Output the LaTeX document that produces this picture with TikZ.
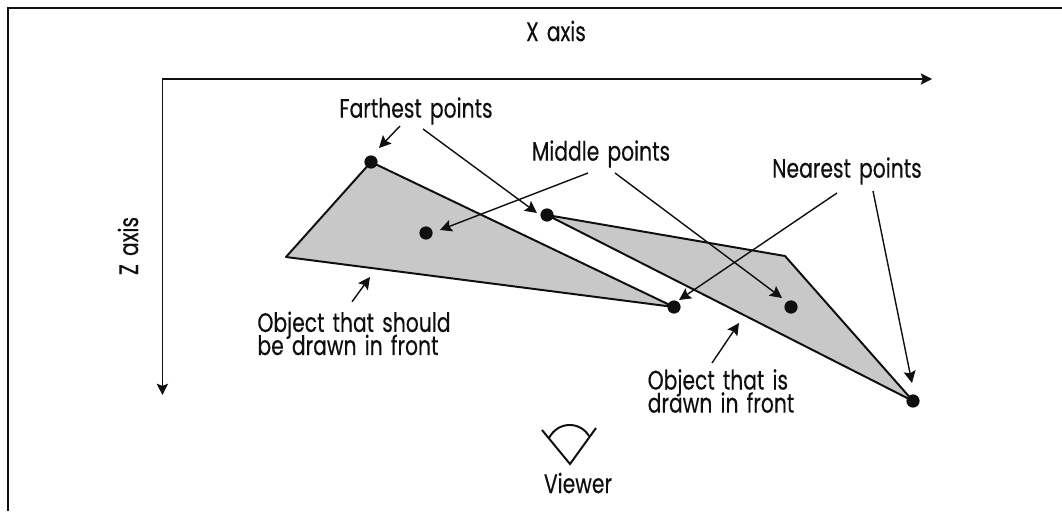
\documentclass[tikz,border=0pt]{standalone}
\usepackage{fontspec}
\setmainfont{Poppins}[FakeStretch=0.76,WordSpace=1.5,FakeBold=0.3]
\usepackage{xcolor}
\usetikzlibrary{arrows.meta}
\definecolor{viewBlack}{RGB}{15,15,15}
\definecolor{shadeGray}{RGB}{200,200,200}
\newcommand{\labelfont}{\fontsize{19}{16.4}\selectfont\lineskiplimit -20pt\relax}
\tikzset{
  labeltext/.style={text=viewBlack,font=\labelfont,inner sep=0pt,align=left},
  axisline/.style={-{Stealth[length=8pt,width=8pt,inset=1.5pt]},viewBlack,line width=1pt},
  pointer/.style={-{Stealth[length=8.5pt,width=8.5pt,inset=1.5pt]},viewBlack,line width=1pt},
  objectface/.style={fill=shadeGray,draw=viewBlack,line width=1.4pt,line join=round},
  dotmark/.style={circle,fill=viewBlack,inner sep=0pt,minimum size=9.4pt}
}
\begin{document}
\begin{tikzpicture}[x=1cm,y=1cm]
\useasboundingbox (0,0) rectangle (26.55,12.775);
% frame
\draw[viewBlack,line width=1pt] (0.2,0) -- (0.2,12.575) -- (26.55,12.575);
% axes
\coordinate (origin) at (4.06,10.8);
\coordinate (xEnd) at (23.3,10.8);
\coordinate (zEnd) at (4.06,2.9);
\draw[axisline] (origin) -- (xEnd);
\draw[axisline] (origin) -- (zEnd);
\node[labeltext] (xLabel) at (13.9,12.0) {X axis};
\node[labeltext,rotate=90] (zLabel) at (3.2,6.625) {Z axis};
% objects
\coordinate (backA) at (9.275,8.725);
\coordinate (backB) at (7.15,6.35);
\coordinate (backC) at (16.85,5.1);
\coordinate (frontA) at (13.675,7.4);
\coordinate (frontB) at (19.625,6.375);
\coordinate (frontC) at (22.825,2.75);
\draw[objectface] (backA) -- (backB) -- (backC) -- cycle;
\draw[objectface] (frontA) -- (frontB) -- (frontC) -- cycle;
\node[dotmark] (farA) at (backA) {};
\node[dotmark] (farB) at (frontA) {};
\node[dotmark] (midA) at (10.65,6.95) {};
\node[dotmark] (midB) at (19.775,5.1) {};
\node[dotmark] (nearA) at (backC) {};
\node[dotmark] (nearB) at (frontC) {};
% labels
\node[labeltext] (farLabel) at (10.4,10.0) {Farthest points};
\node[labeltext] (midLabel) at (15.025,8.925) {Middle points};
\node[labeltext] (nearLabel) at (21.175,8.5) {Nearest points};
\node[labeltext] (backLabel) at (8.85,4.44) {Object that should\\be drawn in front};
\node[labeltext] (frontLabel) at (18.025,3.0) {Object that is\\drawn in front};
\node[labeltext] (viewLabel) at (14.45,0.7) {Viewer};
\coordinate (backEdge) at (9.25,5.85);
\coordinate (frontEdge) at (18.475,4.7);
% pointers
\draw[pointer] ([shift={(-0.4,-0.375)}]farLabel.center) -- ([shift={(0.2,0.35)}]farA.center);
\draw[pointer] ([shift={(0.175,-0.45)}]farLabel.center) -- ([shift={(-0.25,0.05)}]farB.center);
\draw[pointer] ([shift={(-0.325,-0.475)}]midLabel.center) -- ([shift={(0.35,0.075)}]midA.center);
\draw[pointer] ([shift={(0.35,-0.475)}]midLabel.center) -- ([shift={(-0.225,0.225)}]midB.center);
\draw[pointer] ([shift={(-0.25,-0.55)}]nearLabel.center) -- ([shift={(0.125,0.175)}]nearA.center);
\draw[pointer] ([shift={(0.65,-0.5)}]nearLabel.center) -- ([shift={(-0.025,0.45)}]nearB.center);
\draw[pointer] ([shift={(-0.05,0.79)}]backLabel.center) -- (backEdge);
\draw[pointer] ([shift={(-0.225,0.7)}]frontLabel.center) -- (frontEdge);
% viewer eye
\draw[viewBlack,line width=1.4pt] (13.55,2.025) -- (14.25,1.175) -- (14.9,2.075);
\draw[viewBlack,line width=1.4pt] (13.725,1.825) .. controls (13.95,2.25) and (14.5,2.25) .. (14.725,1.875);
\end{tikzpicture}
\end{document}
